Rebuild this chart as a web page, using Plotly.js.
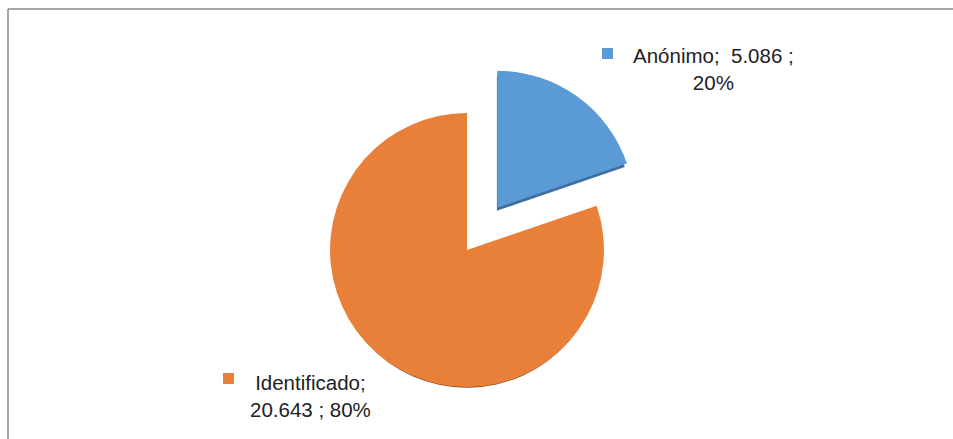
<!DOCTYPE html>
<html>
<head>
<meta charset="utf-8">
<script src="https://cdn.plot.ly/plotly-3.0.1.min.js"></script>
<style>html,body{margin:0;padding:0;background:#fff;}#chart{width:953px;height:439px;}</style>
</head>
<body>
<div id="chart"></div>
<script>
// Data
var categories = ["Anónimo", "Identificado"];
var values = [5086, 20643];
var colors = ["#5B9BD5", "#E8803A"];
var shadowColors = ["#3F6F9E", "#8A4A1A"];
var pulls = [0.38, 0];

function fmt(n){ return n.toString().replace(/\B(?=(\d{3})+(?!\d))/g, "."); }
var total = values.reduce(function(a,b){return a+b;}, 0);
var pct = values.map(function(v){ return Math.round(v/total*100) + "%"; });

var W = 953, H = 439;
function px(x){ return x / W; }
function py(y){ return 1 - y / H; }

// pie box centred near (467, 250), radius ~137
var dom = {x:[px(278), px(656)], y:[py(439), py(61)]};
var shift = 5 / H;

var shadow = {
  type: "pie", labels: categories, values: values, sort: false,
  direction: "clockwise", rotation: 0, pull: pulls,
  marker: {colors: shadowColors, line: {width: 0}},
  textinfo: "none", hoverinfo: "skip", showlegend: false,
  domain: {x: dom.x, y: [Math.max(0, dom.y[0] - shift), dom.y[1] - shift]}
};
var pie = {
  type: "pie", labels: categories, values: values, sort: false,
  direction: "clockwise", rotation: 0, pull: pulls,
  marker: {colors: colors, line: {width: 0}},
  textinfo: "none", hoverinfo: "label+value+percent", showlegend: false,
  domain: dom
};

var font = {family: "Liberation Sans, Arial, sans-serif", size: 20.5, color: "#222"};
var labelText = [
  categories[0] + ";  " + fmt(values[0]) + " ;<br>" + pct[0],
  categories[1] + ";<br>" + fmt(values[1]) + " ; " + pct[1]
];
var annotations = [
  {x: px(713), y: py(69), xref: "paper", yref: "paper", text: labelText[0],
   showarrow: false, xanchor: "center", yanchor: "middle", align: "center", font: font},
  {x: px(310), y: py(396), xref: "paper", yref: "paper", text: labelText[1],
   showarrow: false, xanchor: "center", yanchor: "middle", align: "center", font: font}
];

var shapes = [
  {type: "line", xref: "paper", yref: "paper", x0: px(8), x1: 1, y0: py(9), y1: py(9), line: {color: "#888", width: 1.5}},
  {type: "line", xref: "paper", yref: "paper", x0: px(8), x1: px(8), y0: py(9), y1: 0, line: {color: "#888", width: 1.5}},
  {type: "rect", xref: "paper", yref: "paper", x0: px(602), x1: px(613), y0: py(59), y1: py(48), fillcolor: colors[0], line: {width: 0}},
  {type: "rect", xref: "paper", yref: "paper", x0: px(223), x1: px(234), y0: py(384), y1: py(373), fillcolor: colors[1], line: {width: 0}}
];

var layout = {
  width: W, height: H,
  margin: {l: 0, r: 0, t: 0, b: 0},
  paper_bgcolor: "#fff", plot_bgcolor: "#fff",
  showlegend: false,
  annotations: annotations,
  shapes: shapes
};
Plotly.newPlot("chart", [shadow, pie], layout, {displayModeBar: false, staticPlot: true});
</script>
</body>
</html>
